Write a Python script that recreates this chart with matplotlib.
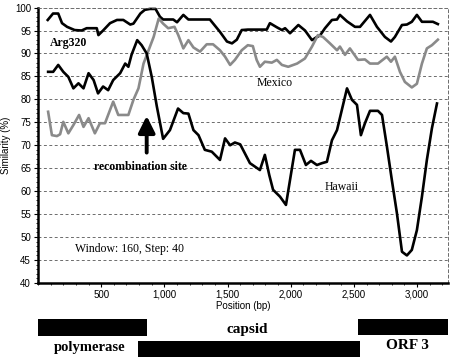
import numpy as np
import matplotlib
matplotlib.use("Agg")
import matplotlib.pyplot as plt
from matplotlib.ticker import FuncFormatter, MultipleLocator

# similarity plot data (position bp, similarity %)
arg_x = [77, 119, 160, 190, 230, 290, 345, 385, 465, 478, 515, 570, 625, 675, 730, 755,
         810, 845, 885, 930, 965, 990, 1070, 1100, 1150, 1190, 1360, 1440, 1495, 1535,
         1573, 1612, 1660, 1810, 1835, 1890, 1930, 1955, 1994, 2060, 2113, 2168, 2207,
         2231, 2271, 2326, 2366, 2389, 2445, 2508, 2548, 2627, 2682, 2745, 2793, 2824,
         2880, 2919, 2958, 2998, 3038, 3125, 3164]
arg_y = [97.3, 98.7, 98.7, 96.6, 95.8, 95.1, 95.0, 95.5, 95.5, 94.0, 95.0, 96.6, 97.3, 97.3,
         96.3, 96.5, 98.7, 99.5, 99.7, 99.7, 98.0, 97.4, 97.4, 96.8, 98.4, 97.4, 97.4, 94.7,
         92.6, 92.2, 93.0, 95.1, 95.2, 95.2, 96.6, 95.7, 95.1, 95.5, 94.4, 96.2, 95.0, 92.9,
         93.6, 93.9, 95.5, 97.3, 97.4, 98.4, 97.0, 95.8, 95.8, 98.4, 95.8, 93.6, 92.6, 93.6,
         96.2, 96.3, 96.9, 98.4, 96.9, 96.9, 96.4]

mex_x = [80, 110, 150, 175, 200, 240, 280, 325, 360, 400, 450, 490, 530, 595, 635, 715,
         755, 795, 835, 875, 915, 955, 990, 1030, 1080, 1110, 1150, 1190, 1230, 1282, 1335,
         1385, 1440, 1480, 1520, 1558, 1612, 1660, 1700, 1730, 1756, 1795, 1850, 1890, 1930,
         1980, 2050, 2112, 2168, 2215, 2255, 2310, 2366, 2389, 2429, 2468, 2532, 2587, 2627,
         2690, 2760, 2793, 2824, 2864, 2903, 2958, 2998, 3038, 3077, 3117, 3164]
mex_y = [77.3, 72.2, 72.0, 72.4, 75.1, 72.6, 74.4, 76.6, 74.0, 75.9, 72.6, 74.8, 74.8, 79.5,
         76.6, 76.6, 79.9, 82.4, 87.8, 90.7, 93.6, 97.6, 96.5, 95.5, 95.8, 94.0, 91.1, 92.9,
         91.3, 90.4, 92.0, 92.0, 90.7, 89.3, 87.5, 88.6, 90.7, 91.8, 91.6, 88.6, 87.1, 88.2,
         88.0, 88.6, 87.5, 87.1, 87.8, 88.9, 91.5, 94.0, 93.6, 92.2, 90.7, 91.5, 89.7, 91.1,
         88.6, 88.7, 87.8, 87.8, 89.3, 88.2, 89.3, 86.0, 83.8, 82.6, 83.4, 87.8, 91.1, 91.8,
         93.0]

haw_x = [80, 120, 160, 200, 240, 280, 320, 360, 400, 440, 475, 515, 555, 595, 650, 690,
         715, 740, 785, 820, 860, 900, 940, 990, 1044, 1108, 1150, 1190, 1230, 1270, 1320,
         1375, 1440, 1480, 1520, 1558, 1600, 1677, 1756, 1795, 1830, 1860, 1915, 1962, 2033,
         2073, 2120, 2160, 2207, 2247, 2286, 2326, 2366, 2445, 2484, 2524, 2555, 2587, 2627,
         2690, 2722, 2761, 2800, 2840, 2880, 2919, 2958, 2998, 3038, 3077, 3117, 3157]
haw_y = [86.0, 86.0, 87.5, 86.0, 84.9, 82.4, 83.5, 82.4, 85.7, 84.2, 81.3, 82.8, 82.0, 84.2,
         85.7, 87.8, 87.1, 89.7, 92.9, 91.8, 90.0, 84.9, 78.5, 71.4, 73.3, 78.0, 77.0, 76.9,
         73.3, 72.2, 69.0, 68.6, 66.8, 71.5, 70.0, 70.6, 70.2, 66.1, 64.6, 67.9, 63.5, 60.3,
         58.8, 57.0, 69.0, 69.0, 65.7, 66.6, 65.7, 66.1, 66.4, 71.1, 73.3, 82.4, 79.9, 78.8,
         72.2, 74.8, 77.5, 77.5, 76.6, 69.7, 62.4, 55.2, 46.8, 46.0, 47.2, 51.5, 58.8, 66.8,
         73.7, 79.1]

# genome map (bp start, bp end)
genes = ["polymerase", "capsid", "ORF 3"]
gene_start = [0, 790, 2532]
gene_end = [862, 2547, 3244]

serif = ["Liberation Serif", "DejaVu Serif"]
sans = ["Liberation Sans", "DejaVu Sans"]

fig = plt.figure(figsize=(4.53, 3.6), dpi=100)
ax = fig.add_axes([0.0839, 0.214, 0.905, 0.765])

ax.plot(arg_x, arg_y, color="black", lw=1.9, solid_joinstyle="round", clip_on=False)
ax.plot(mex_x, mex_y, color="#8a8a8a", lw=1.9, solid_joinstyle="round")
ax.plot(haw_x, haw_y, color="black", lw=1.9, solid_joinstyle="round")

ax.set_xlim(0, 3244)
ax.set_ylim(40, 100)
ax.set_yticks(np.arange(40, 101, 5))
ax.set_xticks([500, 1000, 1500, 2000, 2500, 3000])
ax.xaxis.set_major_formatter(FuncFormatter(lambda v, p: f"{int(v):,}"))
ax.xaxis.set_minor_locator(MultipleLocator(100))
ax.yaxis.set_minor_locator(MultipleLocator(1))
ax.tick_params(axis="both", labelsize=7, length=3, width=0.8, pad=2, colors="black")
ax.tick_params(which="minor", length=1.5, width=0.6)
for lab in ax.get_xticklabels() + ax.get_yticklabels():
    lab.set_family(sans)

for v in range(45, 100, 5):
    ax.axhline(v, color="#555555", lw=0.6, ls=(0, (3.5, 3)), zorder=0)

ax.spines["left"].set_linewidth(1.8)
ax.spines["bottom"].set_linewidth(1.8)
for s in ["top", "right"]:
    ax.spines[s].set_linestyle((0, (3.5, 3)))
    ax.spines[s].set_linewidth(0.6)
    ax.spines[s].set_color("#555555")

ax.set_ylabel("Similarity (%)", fontsize=7, family=sans, labelpad=3)
ax.set_xlabel("Position (bp)", fontsize=7, family=sans, labelpad=1)

ax.text(95, 92.3, "Arg320", fontsize=8.5, weight="bold", family=serif, va="center")
ax.text(1875, 83.6, "Mexico", fontsize=8.5, family=serif, va="center", ha="center")
ax.text(2405, 61.0, "Hawaii", fontsize=8.5, family=serif, va="center", ha="center")
ax.text(813, 65.3, "recombination site", fontsize=8.5, weight="bold", family=serif,
        va="center", ha="center")
ax.text(293, 47.4, "Window: 160, Step: 40", fontsize=8.5, family=serif, va="center")
ax.annotate("", xy=(860, 76.4), xytext=(860, 68.4),
            arrowprops=dict(arrowstyle="-|>,head_width=0.5,head_length=1.0",
                            color="black", lw=2.8, shrinkA=0, shrinkB=0))

# genome map below the axis
gx = fig.add_axes([0.0839, 0.0, 0.905, 43 / 360])
gx.set_xlim(0, 3244)
gx.set_ylim(360, 317)
gx.axis("off")
rows = [327.5, 349, 327]
heights = [17, 16, 16]
for i, g in enumerate(genes):
    gx.barh(rows[i], gene_end[i] - gene_start[i], left=gene_start[i], height=heights[i],
            color="black", clip_on=False)
gx.text(412, 347.5, "polymerase", fontsize=10.5, weight="bold", family=serif,
        ha="center", va="center")
gx.text(1655, 330, "capsid", fontsize=11, weight="bold", family=serif,
        ha="center", va="center")
gx.text(2920, 345.5, "ORF 3", fontsize=11, weight="bold", family=serif,
        ha="center", va="center")

fig.savefig("out.png", dpi=100)
